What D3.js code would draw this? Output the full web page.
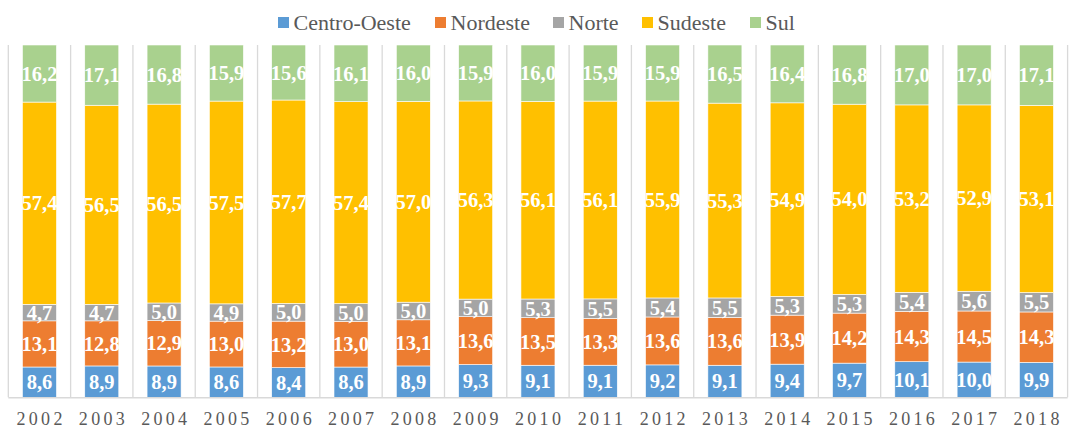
<!DOCTYPE html>
<html><head><meta charset="utf-8">
<script src="https://cdn.jsdelivr.net/npm/d3@7"></script>
<style>body{margin:0;background:#fff}svg{display:block}</style>
</head><body>
<svg id="c" width="1076" height="428"></svg>
<script>
const years = ["2002","2003","2004","2005","2006","2007","2008","2009","2010","2011","2012","2013","2014","2015","2016","2017","2018"];
const seriesNames = ["Centro-Oeste","Nordeste","Norte","Sudeste","Sul"];
const centroOeste = [8.6,8.9,8.9,8.6,8.4,8.6,8.9,9.3,9.1,9.1,9.2,9.1,9.4,9.7,10.1,10.0,9.9];
const nordeste = [13.1,12.8,12.9,13.0,13.2,13.0,13.1,13.6,13.5,13.3,13.6,13.6,13.9,14.2,14.3,14.5,14.3];
const norte = [4.7,4.7,5.0,4.9,5.0,5.0,5.0,5.0,5.3,5.5,5.4,5.5,5.3,5.3,5.4,5.6,5.5];
const sudeste = [57.4,56.5,56.5,57.5,57.7,57.4,57.0,56.3,56.1,56.1,55.9,55.3,54.9,54.0,53.2,52.9,53.1];
const sul = [16.2,17.1,16.8,15.9,15.6,16.1,16.0,15.9,16.0,15.9,15.9,16.5,16.4,16.8,17.0,17.0,17.1];
const colors = ["#5B9BD5","#ED7D31","#A5A5A5","#FFC000","#A9D18E"];

const FONT = '"Liberation Serif"';
const seriesVals = [centroOeste, nordeste, norte, sudeste, sul];
const table = years.map((y,i)=>{const o={year:y}; seriesNames.forEach((s,k)=>o[s]=seriesVals[k][i]); return o;});
const stacked = d3.stack().keys(seriesNames).offset(d3.stackOffsetExpand)(table);

const svg = d3.select("#c");
const pLeft = 8.3, pRight = 1067.6, pTop = 45, pBottom = 397.3;
const x = d3.scaleBand().domain(years).range([pLeft,pRight]).paddingInner(0.454).paddingOuter(0.227);
const y = d3.scaleLinear().domain([0,1]).range([pBottom, pTop]);
const step = x.step();

// category separator gridlines
const gx = d3.range(years.length+1).map(i=>pLeft + i*step);
svg.append("g").selectAll("line").data(gx).join("line")
  .attr("x1",d=>d).attr("x2",d=>d).attr("y1",pTop).attr("y2",pBottom)
  .attr("stroke","#D9D9D9").attr("stroke-width",1.3);

// bars
const g = svg.append("g");
stacked.forEach((layer,k)=>{
  g.append("g").selectAll("rect").data(layer).join("rect")
    .attr("x",d=>x(d.data.year)).attr("width",x.bandwidth())
    .attr("y",d=>y(d[1])).attr("height",d=>y(d[0])-y(d[1]))
    .attr("fill",colors[k]).attr("stroke","#fff").attr("stroke-width",0.6);
});

// axis line
svg.append("line").attr("x1",pLeft).attr("x2",pRight).attr("y1",pBottom+0.5).attr("y2",pBottom+0.5)
  .attr("stroke","#D9D9D9").attr("stroke-width",1.5);

// data labels
const fmt = v => v.toFixed(1).replace(".",",");
stacked.forEach((layer,k)=>{
  svg.append("g").selectAll("text").data(layer).join("text")
    .attr("x",d=>x(d.data.year)+x.bandwidth()/2)
    .attr("y",d=>(y(d[0])+y(d[1]))/2)
    .attr("dy","0.35em")
    .attr("text-anchor","middle")
    .style("font-family",FONT)
    .style("font-weight","bold").style("font-size","20.5px").attr("fill","#fff")
    .text((d,i)=>fmt(seriesVals[k][i]));
});

// x axis labels
const xAxis = d3.axisBottom(x).tickSize(0).tickPadding(0);
const ax = svg.append("g").attr("transform",`translate(0,${pBottom})`).call(xAxis);
ax.attr("font-family",null).attr("font-size",null);
ax.select(".domain").remove();
ax.selectAll("text")
  .attr("y",28).attr("dy",0)
  .attr("dx","1.65px")
  .style("font-family",FONT)
  .style("font-size","18px").attr("fill","#595959")
  .style("letter-spacing","3.3px");

// legend
const legX = [278,435,553,642,750];
const leg = svg.append("g").selectAll("g").data(seriesNames).join("g")
  .attr("transform",(d,i)=>`translate(${legX[i]},0)`);
leg.append("rect").attr("x",0).attr("y",17).attr("width",11).attr("height",11).attr("fill",(d,i)=>colors[i]);
leg.append("text").attr("x",15.5).attr("y",30)
  .style("font-family",FONT)
  .style("font-size","22px").attr("fill","#595959").text(d=>d);
</script>
</body></html>
